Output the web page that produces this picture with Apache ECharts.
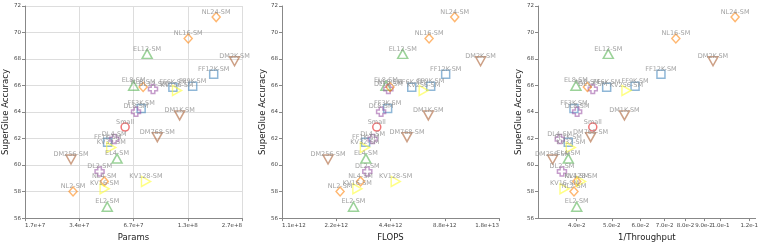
<!DOCTYPE html>
<html><head><meta charset="utf-8">
<script src="https://cdn.jsdelivr.net/npm/echarts@6/dist/echarts.min.js"></script>
<style>html,body{margin:0;padding:0;background:#fff}#c{width:761px;height:247px}</style>
</head><body><div id="c"></div><script>
const models = ['Small','FF1K-SM','FF3K-SM','FF6K-SM','FF9K-SM','FF12K-SM','EL2-SM','EL4-SM','EL8-SM','EL12-SM','DL2-SM','DL4-SM','DL8-SM','DL12-SM','NL2-SM','NL4-SM','NL8-SM','NL16-SM','NL24-SM','KV16-SM','KV32-SM','KV128-SM','KV256-SM','DM256-SM','DM768-SM','DM1K-SM','DM2K-SM'];
const families = ['Small','FF','FF','FF','FF','FF','EL','EL','EL','EL','DL','DL','DL','DL','NL','NL','NL','NL','NL','KV','KV','KV','KV','DM','DM','DM','DM'];
const params = [6.03e7,4.82e7,7.4e7,1.11e8,1.43e8,1.87e8,4.8e7,5.44e7,6.72e7,7.99e7,4.35e7,5.25e7,6.93e7,8.61e7,3.10e7,4.62e7,7.59e7,1.35e8,1.93e8,4.64e7,5.05e7,7.87e7,1.17e8,3.02e7,9.1e7,1.21e8,2.44e8];
const flops = [3.69e12,3.2e12,4.24e12,5.77e12,7.35e12,8.9e12,2.74e12,3.21e12,4.15e12,5.14e12,3.27e12,3.5e12,3.9e12,4.28e12,2.31e12,3.0e12,4.37e12,7.2e12,9.99e12,2.88e12,3.17e12,4.7e12,6.72e12,1.98e12,5.43e12,7.13e12,1.39e13];
const invThroughput = [0.0443,0.0379,0.0393,0.0484,0.058,0.0684,0.04,0.0379,0.0398,0.0489,0.0364,0.0359,0.0401,0.0443,0.0393,0.04,0.0428,0.0752,0.1097,0.037,0.0385,0.0411,0.0549,0.0343,0.0437,0.0542,0.0953];
const accuracy = [62.87,61.72,64.27,65.87,65.94,66.85,56.86,60.49,65.99,68.39,59.51,61.96,64.02,65.74,58.01,58.77,65.89,69.55,71.17,58.21,61.33,58.77,65.62,60.42,62.11,63.75,67.83];
const familyOrder = ['Small','FF','EL','DL','NL','KV','DM'];
const invTpTicks = [0.04,0.05,0.06,0.07,0.08,0.09,0.1,0.12];
const xTitles = ['Params','FLOPS','1/Throughput'];
const yTitle = 'SuperGlue Accuracy';

const familyColors = {Small:'rgba(228,26,28,0.75)',FF:'rgba(55,126,184,0.7)',EL:'rgba(77,175,74,0.7)',DL:'rgba(152,78,163,0.7)',NL:'rgba(255,127,0,0.7)',KV:'rgba(255,255,51,0.75)',DM:'rgba(166,86,40,0.7)'};
const familySymbols = {
  Small:['circle',8], FF:['rect',8], EL:['path://M0,-1L1,0.75L-1,0.75Z',[10,9]],
  DL:['path://M-5,-2L-5,2L-2,2L-2,5L2,5L2,2L5,2L5,-2L2,-2L2,-5L-2,-5L-2,-2Z',9],
  NL:['diamond',[8,9]], KV:['path://M-0.75,-1L1,0L-0.75,1Z',[9,10]], DM:['path://M-1,-0.75L1,-0.75L0,1Z',[10,9]]
};
const xData = [params, flops, invThroughput];
const grids = [{left:25,top:6,width:217,height:217},{left:282,top:6,width:217,height:217},{left:538,top:6,width:218,height:217}];
const FONT = 'DejaVu Sans';
const fmt = v => Number(v).toExponential(1);

const xAxes = [0,1,2].map(i => {
  const a = {
    type:'log', logBase:2, gridIndex:i,
    name:xTitles[i], nameLocation:'middle', nameGap:11,
    nameTextStyle:{fontFamily:FONT,fontSize:8.5,color:'#222'},
    axisLine:{show:true,lineStyle:{color:'#888',width:1}},
    axisTick:{show:true,length:3,lineStyle:{color:'#888'}},
    axisLabel:{fontFamily:FONT,fontSize:5.5,color:'#444',margin:4,formatter:fmt},
    splitLine:{show:i===0,lineStyle:{color:'#ddd',width:1}},
    minorTick:{show:false}
  };
  if (i===0){a.min=Math.pow(2,24);a.max=Math.pow(2,28);a.interval=1;}
  if (i===1){a.min=Math.pow(2,40);a.max=Math.pow(2,44);a.interval=1;}
  if (i<2){a.axisLabel.alignMinLabel='left';a.axisLabel.alignMaxLabel='right';}
  if (i===2){
    a.min=Math.pow(2,-5);a.max=Math.pow(2,-3);
    a.axisLabel.customValues=invTpTicks;
    a.axisTick.customValues=invTpTicks;
  }
  return a;
});
const yAxes = [0,1,2].map(i => ({
  type:'value', gridIndex:i, min:56, max:72, interval:2,
  name:yTitle, nameLocation:'middle', nameGap:13, nameRotate:90,
  nameTextStyle:{fontFamily:FONT,fontSize:8.5,color:'#222'},
  axisLine:{show:true,lineStyle:{color:'#888',width:1}},
  axisTick:{show:true,length:3,lineStyle:{color:'#888'}},
  axisLabel:{fontFamily:FONT,fontSize:5.5,color:'#444',margin:4},
  splitLine:{show:i===0,lineStyle:{color:'#ddd',width:1}}
}));

const series = [];
for (let p=0;p<3;p++){
  familyOrder.forEach(f => {
    const data = [];
    models.forEach((m,k) => { if (families[k]===f) data.push({name:m,value:[xData[p][k],accuracy[k]]}); });
    series.push({
      type:'scatter', xAxisIndex:p, yAxisIndex:p, data,
      symbol:familySymbols[f][0], symbolSize:familySymbols[f][1],
      itemStyle:{color:'rgba(0,0,0,0)',borderColor:familyColors[f],borderWidth:1.5},
      label:{show:true,position:'inside',offset:[0,-5],formatter:q=>q.name,fontFamily:FONT,fontSize:6.5,color:'#8a8a8a'},
      emphasis:{disabled:true}, silent:true, animation:false
    });
  });
}

const chart = echarts.init(document.getElementById('c'), null, {renderer:'canvas'});
chart.setOption({animation:false, grid:grids, xAxis:xAxes, yAxis:yAxes, series});
</script></body></html>
